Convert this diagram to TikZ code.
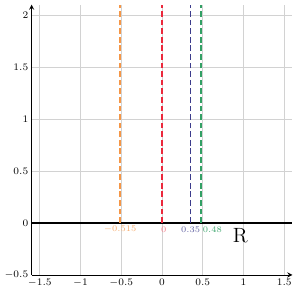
\documentclass[tikz,border=0pt]{standalone}
\usepackage{xcolor}
\definecolor{lineorange}{RGB}{245,150,70}
\definecolor{linered}{RGB}{235,40,60}
\definecolor{lineblue}{RGB}{60,60,140}
\definecolor{linegreen}{RGB}{50,160,100}
\tikzset{
  gridline/.style={gray!35, line width=0.5pt},
  rootline/.style={line width=1pt, dash pattern=on 4pt off 2pt},
  ticklab/.style={font=\scriptsize, inner sep=1pt},
  rootlab/.style={font=\fontsize{6}{7}\selectfont, inner sep=0.5pt}
}
\begin{document}
\begin{tikzpicture}[x=2cm, y=2.552cm]
    \useasboundingbox (-1.988,-0.731) rectangle (1.681,2.144);
    % grid
    \foreach \gx in {-1.5,-1,-0.5,0,0.5,1,1.5}
        \draw[gridline] (\gx,-0.5)--(\gx,2.1);
    \foreach \gy in {0,0.5,1,1.5,2}
        \draw[gridline] (-1.6,\gy)--(1.6,\gy);
    % axes
    \coordinate (xa) at (-1.6,-0.5);
    \coordinate (xb) at (1.6,-0.5);
    \coordinate (yb) at (-1.6,2.1);
    \draw[->, >=stealth, line width=0.6pt] (xa)--(xb);
    \draw[->, >=stealth, line width=0.6pt] (xa)--(yb);
    \foreach \gx/\lab in {-1.5/-1.5,-1/-1,-0.5/-0.5,0/0,0.5/0.5,1/1,1.5/1.5}
        \node[ticklab, below] (tx\lab) at (\gx,-0.52) {$\lab$};
    \foreach \gy/\lab in {-0.5/-0.5,0/0,0.5/0.5,1/1,1.5/1.5,2/2}
        \node[ticklab, left] (ty\lab) at (-1.62,\gy) {$\lab$};
    % real line
    \coordinate (ra) at (-1.6,0);
    \coordinate (rb) at (1.6,0);
    \draw[line width=1.1pt] (ra)--(rb);
    \node[font=\Large] (R) at (0.96,-0.12) {$\mathrm{R}$};
    % roots
    \foreach \rx/\rc/\nm in {-0.515/lineorange/a,0/linered/b,0.35/lineblue/c,0.48/linegreen/d}{
        \coordinate (bot\nm) at (\rx,0);
        \coordinate (top\nm) at (\rx,2.1);
        \draw[rootline, \rc] (bot\nm)--(top\nm);
    }
    \node[rootlab, text=lineorange!80] (la) at (-0.515,-0.065) {$-0.515$};
    \node[rootlab, text=linered!60] (lb) at (0.02,-0.065) {$0$};
    \node[rootlab, text=lineblue!80] (lc) at (0.35,-0.065) {$0.35$};
    \node[rootlab, text=linegreen!90, anchor=west] (ld) at (0.49,-0.065) {$0.48$};
\end{tikzpicture}
\end{document}
